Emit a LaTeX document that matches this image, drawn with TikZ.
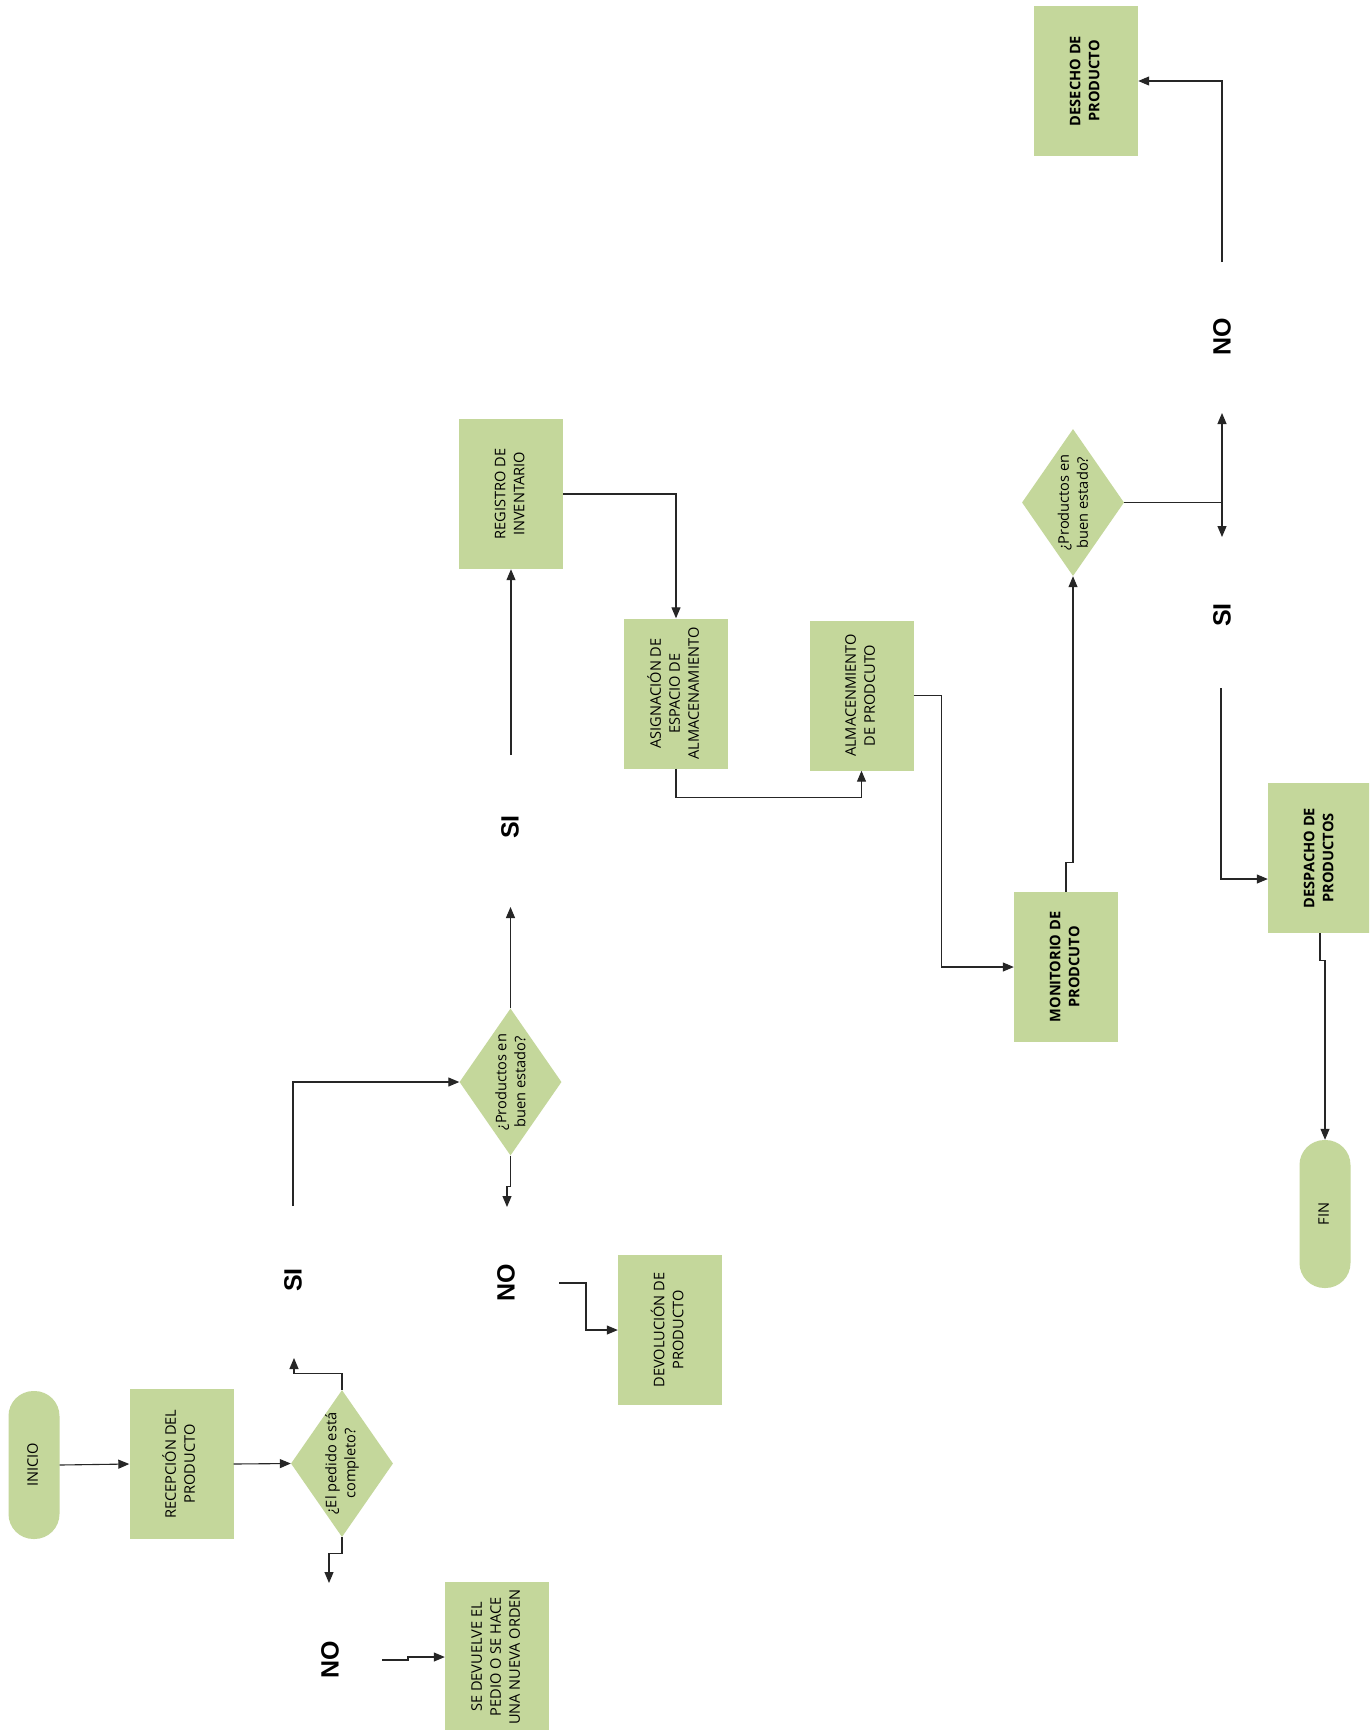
\documentclass[tikz,border=0pt]{standalone}
\usepackage{graphicx}
\usepackage{fontspec}
\setmainfont{Open Sans}
\newfontfamily\lblfont{Liberation Sans}
\usetikzlibrary{shapes.geometric,arrows.meta}
\definecolor{boxgreen}{HTML}{C4D79B}
\definecolor{linegray}{HTML}{262626}
\newcommand{\rt}[1]{\rotatebox{90}{\begin{tabular}{@{}c@{}}#1\end{tabular}}}
\tikzset{
  box/.style={fill=boxgreen, draw=none, minimum width=104pt, minimum height=150pt, inner sep=0pt,
    font=\fontsize{14.6}{19}\selectfont, text=black},
  bbox/.style={box, font=\fontsize{14.6}{19}\selectfont\bfseries},
  term/.style={fill=boxgreen, draw=none, minimum width=51pt, minimum height=148pt,
    rounded corners=25pt, inner sep=0pt, font=\fontsize{14.6}{19}\selectfont, text=black},
  dec/.style={diamond, fill=boxgreen, draw=none, minimum width=102pt, minimum height=147pt, inner sep=0pt},
  dtxt/.style={rotate=90, align=center, inner sep=0pt, font=\fontsize{14.6}{19}\selectfont, text=black},
  lbl/.style={rotate=90, inner sep=0pt, font=\lblfont\bfseries\fontsize{25}{28}\selectfont},
  conn/.style={draw=linegray, line width=1.1pt},
  arr/.style={conn, -{Triangle[length=11pt,width=9pt]}},
}
\begin{document}
\begin{tikzpicture}[x=1pt,y=-1pt]
\clip (0,0) rectangle (1369,1730);
\fill[white] (0,0) rectangle (1369,1730);

% nodes
\node[term] (inicio) at (34,1465) {\rt{INICIO}};
\node[box] (rec) at (181.5,1464) {\rt{RECEPCIÓN DEL\\PRODUCTO}};
\node[dec] (d1) at (342,1463.5) {};
\node[dtxt] (d1t) at (d1) {¿El pedido está\\completo?};
\node[lbl] (si1) at (293,1280) {SI};
\node[lbl] (no1) at (330,1660) {NO};
\node[box] (sedev) at (497,1657) {\rt{SE DEVUELVE EL\\PEDIO O SE HACE\\UNA NUEVA ORDEN}};
\node[dec] (d2) at (510.5,1082) {};
\node[dtxt] (d2t) at (d2) {¿Productos en\\buen estado?};
\node[lbl] (no2) at (506,1283) {NO};
\node[box] (dev) at (670,1330) {\rt{DEVOLUCIÓN DE\\PRODUCTO}};
\node[lbl] (si2) at (510,827) {SI};
\node[box] (reg) at (511,494) {\rt{REGISTRO DE\\INVENTARIO}};
\node[box] (asig) at (676,693.5) {\rt{ASIGNACIÓN DE\\ESPACIO DE\\ALMACENAMIENTO}};
\node[box] (alm) at (861.5,695.5) {\rt{ALMACENMIENTO\\DE PRODCUTO}};
\node[bbox] (mon) at (1066,967) {\rt{MONITORIO DE\\PRODCUTO}};
\node[dec] (d3) at (1073,502.5) {};
\node[dtxt] (d3t) at (d3) {¿Productos en\\buen estado?};
\node[lbl] (no3) at (1222,337) {NO};
\node[lbl] (si3) at (1222,615) {SI};
\node[bbox] (desecho) at (1086,81) {\rt{DESECHO DE\\PRODUCTO}};
\node[bbox] (desp) at (1320,858) {\rt{DESPACHO DE\\PRODUCTOS}};
\node[term] (fin) at (1325,1214) {\rt{FIN}};

% free ends
\coordinate (si1end) at (294,1358);
\coordinate (no1end) at (329,1583);
\coordinate (no1out) at (382,1660);
\coordinate (si1out) at (293,1206);
\coordinate (no2end) at (507,1207);
\coordinate (no2out) at (559,1283);
\coordinate (si2end) at (510.5,907);
\coordinate (si2out) at (511,755);
\coordinate (split) at (1222,502.5);
\coordinate (no3end) at (1222,413);
\coordinate (si3end) at (1222,537);
\coordinate (no3out) at (1222,262);
\coordinate (si3out) at (1221,688);

% connectors
\draw[arr] (inicio.east) -- (rec.west);
\draw[arr] (rec.east) -- (d1.west);
\draw[arr] (d1.north) -- ++(0,-16) -| (si1end);
\draw[arr] (d1.south) -- ++(0,16) -| (no1end);
\draw[arr] (no1out) -- ++(26,0) |- (sedev.west);
\draw[arr] (si1out) |- (d2.west);
\draw[arr] (d2.south) -- ++(0,31) -| (no2end);
\draw[arr] (no2out) -- ++(27,0) |- (dev.west);
\draw[arr] (d2.north) -- (si2end);
\draw[arr] (si2out) -- (reg.south);
\draw[arr] (reg.east) -| (asig.north);
\draw[arr] (asig.south) -- ++(0,29) -| (alm.south);
\draw[arr] (alm.east) -- ++(28,0) |- (mon.west);
\draw[arr] (mon.north) -- ++(0,-29) -| (d3.south);
\draw[conn] (d3.east) -- (split);
\draw[arr] (split) -- (no3end);
\draw[arr] (split) -- (si3end);
\draw[arr] (no3out) |- (desecho.east);
\draw[arr] (si3out) |- ([yshift=-21pt]desp.west);
\draw[arr] (desp.south) -- ++(0,27) -| (fin.north);
\end{tikzpicture}
\end{document}
